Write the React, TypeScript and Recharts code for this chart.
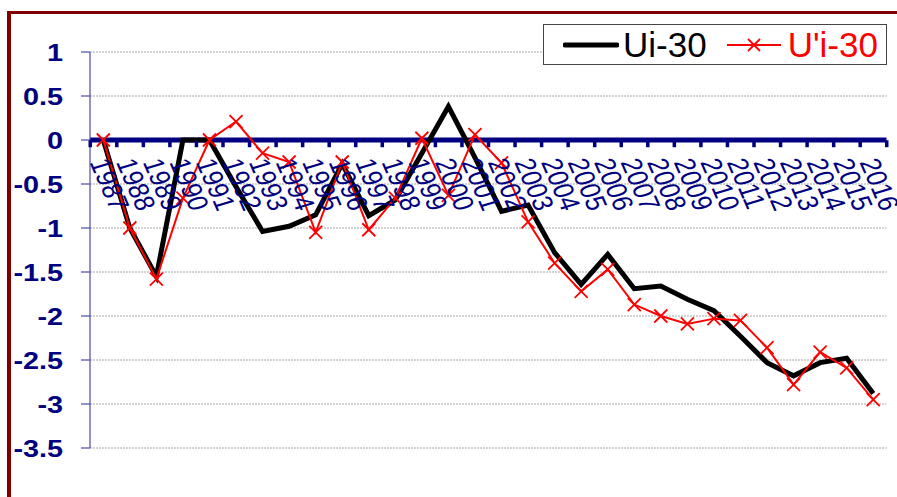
import React from 'react';
import { LineChart, Line, XAxis, YAxis, CartesianGrid, ReferenceLine } from 'recharts';

const YEARS = [
  '1987', '1988', '1989', '1990', '1991', '1992', '1993', '1994', '1995', '1996',
  '1997', '1998', '1999', '2000', '2001', '2002', '2003', '2004', '2005', '2006',
  '2007', '2008', '2009', '2010', '2011', '2012', '2013', '2014', '2015', '2016',
];

const UI_30 = [
  0, -1.0, -1.55, 0, 0, -0.53, -1.04, -0.98, -0.85, -0.27,
  -0.86, -0.68, -0.15, 0.38, -0.2, -0.81, -0.74, -1.28, -1.64, -1.3,
  -1.69, -1.66, -1.81, -1.94, -2.23, -2.53, -2.68, -2.53, -2.48, -2.88,
];

const UPI_30 = [
  0, -1.0, -1.58, -0.66, 0, 0.21, -0.15, -0.25, -1.05, -0.25,
  -1.02, -0.66, 0.02, -0.63, 0.06, -0.26, -0.93, -1.4, -1.72, -1.47,
  -1.87, -2.0, -2.09, -2.03, -2.05, -2.36, -2.78, -2.41, -2.59, -2.95,
];

const Y_TICKS = [-3.5, -3, -2.5, -2, -1.5, -1, -0.5, 0, 0.5, 1];

const data = YEARS.map((year, i) => ({ year, ui: UI_30[i], upi: UPI_30[i] }));

const W = 897;
const H = 497;
const MARGIN = { top: 52, right: 10.5, bottom: 48, left: 0 };
const Y_AXIS_W = 90;
const PLOT_W = W - MARGIN.left - MARGIN.right - Y_AXIS_W;
const PLOT_H = H - MARGIN.top - MARGIN.bottom;
const STEP = PLOT_W / YEARS.length;
const Y_MIN = -3.5;
const Y_MAX = 1;
const ZERO_Y = MARGIN.top + (PLOT_H * (Y_MAX - 0)) / (Y_MAX - Y_MIN);

const NAVY = '#000080';
const FONT = '"Liberation Sans", Arial, sans-serif';

const YTick = (props: any) => {
  const { x, y, payload } = props;
  return (
    <text
      transform={`translate(${x},${y}) scale(1.2,1)`}
      textAnchor="end"
      dy="0.36em"
      fill={NAVY}
      fontSize={24}
      fontWeight="bold"
      fontFamily={FONT}
    >
      {payload.value}
    </text>
  );
};

const XTick = (props: any) => {
  const { x, payload, index } = props;
  return (
    <g>
      {index === 0 && <rect x={x - STEP / 2 - 1.5} y={ZERO_Y} width={3.5} height={7} fill={NAVY} />}
      <rect x={x + STEP / 2 - 1.5} y={ZERO_Y} width={3.5} height={7} fill={NAVY} />
      <text
        transform={`translate(${x - 4.5},${ZERO_Y + 19}) scale(1.2,1) rotate(70)`}
        textAnchor="start"
        dy="0.35em"
        fill={NAVY}
        fontSize={24}
        fontFamily={FONT}
      >
        {payload.value}
      </text>
    </g>
  );
};

const Cross = (props: any) => {
  const { cx, cy } = props;
  if (cx == null || cy == null) return null;
  const s = 6.5;
  return (
    <g stroke="#ff0000" strokeWidth={1.8}>
      <line x1={cx - s} y1={cy - s} x2={cx + s} y2={cy + s} />
      <line x1={cx - s} y1={cy + s} x2={cx + s} y2={cy - s} />
    </g>
  );
};

const LegendBox = () => (
  <div
    style={{
      position: 'absolute',
      left: 543,
      top: 24,
      boxSizing: 'border-box',
      width: 344,
      height: 41,
      border: '1.5px solid #444',
      background: '#fff',
      display: 'flex',
      alignItems: 'center',
      fontFamily: FONT,
      fontSize: 35,
      paddingLeft: 19,
    }}
  >
    <svg width={56} height={10} style={{ marginRight: 4 }}>
      <line x1={2} y1={5} x2={54} y2={5} stroke="#000" strokeWidth={5} strokeLinecap="round" />
    </svg>
    <span style={{ color: '#000', lineHeight: 1 }}>Ui-30</span>
    <svg width={56} height={16} style={{ marginLeft: 20, marginRight: 5 }}>
      <line x1={0} y1={8} x2={54} y2={8} stroke="#ff0000" strokeWidth={2} />
      <line x1={21} y1={2} x2={33} y2={14} stroke="#ff0000" strokeWidth={1.8} />
      <line x1={21} y1={14} x2={33} y2={2} stroke="#ff0000" strokeWidth={1.8} />
    </svg>
    <span style={{ color: '#ff0000', lineHeight: 1 }}>U'i-30</span>
  </div>
);

export default function App() {
  return (
    <div style={{ position: 'absolute', left: 0, top: 0, width: W, height: H, overflow: 'hidden', background: '#fff' }}>
      <div
        style={{
          position: 'absolute',
          left: 7,
          top: 11,
          width: 920,
          height: 483,
          borderLeft: '4px solid #800000',
          borderTop: '3px solid #800000',
          borderBottom: '3px solid #800000',
        }}
      />
      <div style={{ position: 'absolute', left: 0, top: 0 }}>
        <LineChart width={W} height={H} data={data} margin={MARGIN}>
          <CartesianGrid vertical={false} stroke="#a8a8a8" strokeDasharray="2 1" />
          <XAxis
            dataKey="year"
            axisLine={false}
            tickLine={false}
            interval={0}
            height={1}
            tick={<XTick />}
            padding={{ left: STEP / 2, right: STEP / 2 }}
          />
          <YAxis
            type="number"
            domain={[Y_MIN, Y_MAX]}
            ticks={Y_TICKS}
            width={Y_AXIS_W}
            interval={0}
            axisLine={{ stroke: '#4b4bab', strokeWidth: 1.2 }}
            tickLine={{ stroke: '#4b4bab', strokeWidth: 1.2 }}
            tickSize={9}
            tickMargin={18}
            tick={<YTick />}
          />
          <ReferenceLine y={0} stroke={NAVY} strokeWidth={5} />
          <Line
            type="linear"
            dataKey="ui"
            stroke="#000"
            strokeWidth={5}
            dot={false}
            activeDot={false}
            isAnimationActive={false}
          />
          <Line
            type="linear"
            dataKey="upi"
            stroke="#ff0000"
            strokeWidth={2}
            dot={<Cross />}
            activeDot={false}
            isAnimationActive={false}
          />
        </LineChart>
      </div>
      <LegendBox />
    </div>
  );
}
